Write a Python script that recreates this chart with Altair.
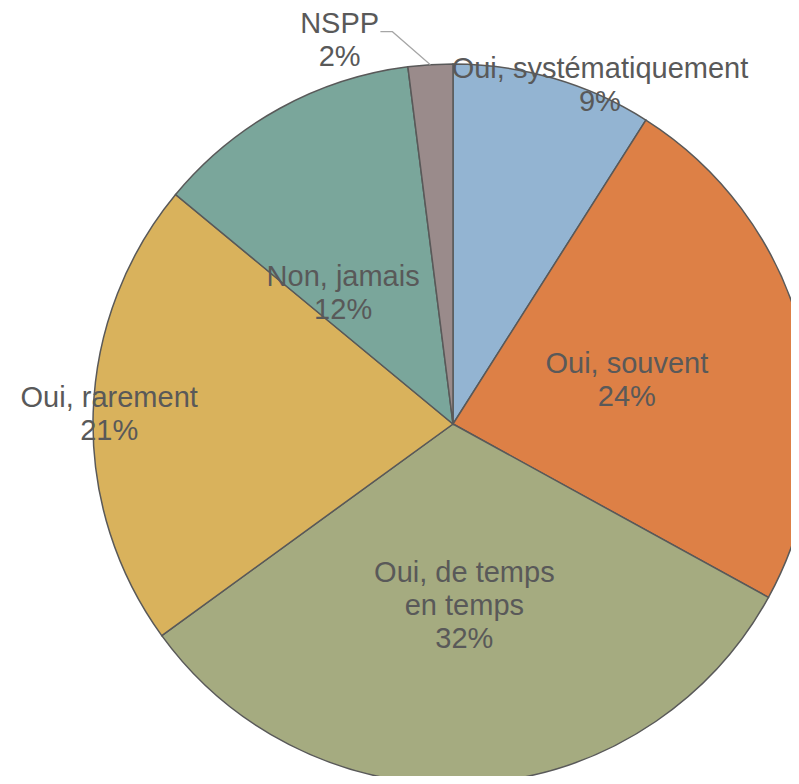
import math
import altair as alt
import pandas as pd

categories = ["Oui, systématiquement", "Oui, souvent", "Oui, de temps en temps",
              "Oui, rarement", "Non, jamais", "NSPP"]
label_lines = [["Oui, systématiquement", "9%"], ["Oui, souvent", "24%"],
               ["Oui, de temps", "en temps", "32%"], ["Oui, rarement", "21%"],
               ["Non, jamais", "12%"], ["NSPP", "2%"]]
values = [9, 24, 32, 21, 12, 2]
colors = ["#93B4D2", "#DD8046", "#A5AB80", "#D9B25C", "#7AA69B", "#9A8B8B"]

# layout / style (pixels)
CX, CY, R = 445, 416, 360
LH = 33
label_style = {  # radius, dx, dy
    "Oui, systématiquement": (369, 44, 16),
    "Oui, souvent": (179.5, 0, 1),
    "Oui, de temps en temps": (181, 0, 1),
    "Oui, rarement": (344, 0, 1),
    "Non, jamais": (172, -27, 20),
    "NSPP": (404, -88, 20),
}

df = pd.DataFrame({"cat": categories, "value": values, "idx": range(len(values))})
df["lines"] = label_lines
total = sum(values)
cum = 0
xs, ys, mids = [], [], []
for c, v, ln in zip(categories, values, label_lines):
    mid = (cum + v / 2) / total * 2 * math.pi
    cum += v
    r, dx, dy = label_style[c]
    xs.append(CX + r * math.sin(mid) + dx)
    ys.append(CY - r * math.cos(mid) + dy - (len(ln) - 1) * LH / 2)
    mids.append(mid)
df["lx"] = xs
df["ly"] = ys

# leader line for NSPP
m = mids[-1]
ex, ey = CX + R * math.sin(m), CY - R * math.cos(m)
lead = pd.DataFrame({"x": [ex - 50, ex - 38, ex], "y": [ey - 33, ey - 33, ey], "o": [0, 1, 2]})

arcs = alt.Chart(df).mark_arc(radius=R, stroke="#595959", strokeWidth=1.5).encode(
    theta=alt.Theta("value:Q", stack=True),
    order=alt.Order("idx:Q"),
    color=alt.Color("cat:N", scale=alt.Scale(domain=categories, range=colors), legend=None),
    x=alt.value(CX),
    y=alt.value(CY),
)

leader = alt.Chart(lead).mark_line(color="#A6A6A6", strokeWidth=1.2).encode(
    x=alt.X("x:Q", scale=None),
    y=alt.Y("y:Q", scale=None),
    order="o:Q",
)

texts = alt.Chart(df).mark_text(
    font="Liberation Sans", fontSize=29, color="#595959", lineHeight=LH,
    align="center", baseline="middle",
).encode(
    x=alt.X("lx:Q", scale=None),
    y=alt.Y("ly:Q", scale=None),
    text="lines",
)

chart = alt.layer(arcs, leader, texts).properties(
    width=783, height=768, padding=0, autosize=alt.AutoSizeParams(type="none")
).configure_view(stroke=None)

chart.save("out.html", embed_options={"renderer": "svg", "actions": False})
